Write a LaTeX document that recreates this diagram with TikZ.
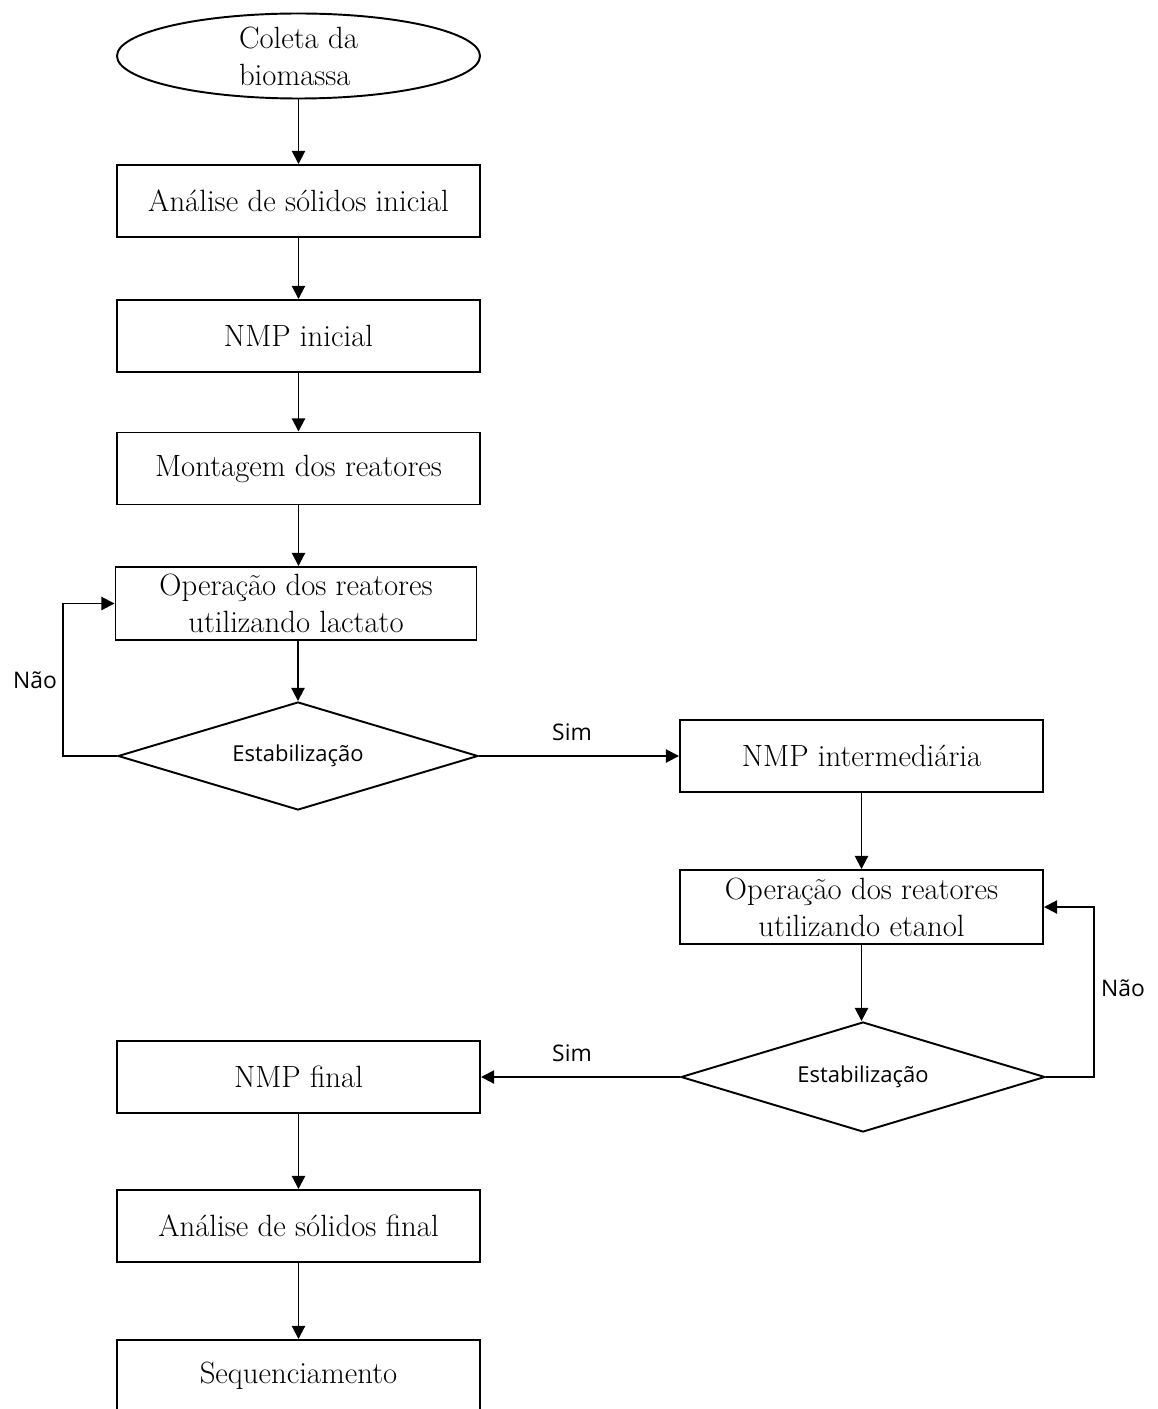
\documentclass[tikz,border=0pt]{standalone}
\usepackage{fontspec}
\newfontfamily\labelfont{Open Sans}
\usepackage{tikz}
\usetikzlibrary{positioning,arrows.meta}
\usetikzlibrary{shapes.geometric}
\tikzset{every picture/.style={line width=1.1pt}}
\tikzset{
  etapa/.style={draw, rectangle, minimum width=7.26cm, minimum height=1.44cm, inner sep=0pt,
    align=center, font=\fontsize{17.5}{21}\selectfont},
  inicio/.style={draw, ellipse, minimum width=7.26cm, minimum height=1.7cm, inner sep=0pt,
    align=left, font=\fontsize{17.5}{21}\selectfont},
  decisao/.style={draw, diamond, aspect=3.33, minimum width=7.2cm, minimum height=2.16cm, inner sep=0pt,
    font=\labelfont\fontsize{12.5}{14}\selectfont},
  rotulo/.style={font=\labelfont\fontsize{13}{15}\selectfont},
  seta/.style={-{Triangle[length=7.5pt,width=7.5pt]}}
}

\begin{document}
\begin{tikzpicture}
\clip (0,0) rectangle (23.16,-28.18);
% coluna da esquerda
\node[inicio] (coleta) at (5.97,-1.12) {Coleta da\\biomassa};
\node[etapa] (solini) at (5.97,-4.02) {Análise de sólidos inicial};
\node[etapa] (nmpini) at (5.97,-6.72) {NMP inicial};
\node[etapa] (montagem) at (5.97,-9.37) {Montagem dos reatores};
\node[etapa, minimum width=7.22cm, minimum height=1.46cm] (oplact) at (5.92,-12.07) {Operação dos reatores\\utilizando lactato};
\node[decisao] (estab1) at (5.96,-15.12) {Estabilização};
%
% coluna da direita
\node[etapa] (nmpint) at (17.23,-15.12) {NMP intermediária};
\node[etapa, minimum height=1.48cm] (opetan) at (17.23,-18.14) {Operação dos reatores\\utilizando etanol};
\node[decisao, minimum width=7.28cm, minimum height=2.2cm] (estab2) at (17.26,-21.54) {Estabilização};
%
% final
\node[etapa] (nmpfin) at (5.97,-21.54) {NMP final};
\node[etapa] (solfin) at (5.97,-24.52) {Análise de sólidos final};
\node[etapa] (sequen) at (5.97,-27.52) {Sequenciamento};
%
\draw[seta] (coleta) -- (solini);
\draw[seta] (solini) -- (nmpini);
\draw[seta] (nmpini) -- (montagem);
\draw[seta] (montagem) -- (montagem |- oplact.north);
\draw[seta] (oplact.south -| estab1) -- (estab1);
\draw[seta] (estab1.west) -- ++(-1.08,0) |- (oplact.west);
\draw[seta] (estab1.east) -- (nmpint.west);
\draw[seta] (nmpint) -- (opetan);
\draw[seta] (opetan) -- (opetan |- estab2.north);
\draw[seta] (estab2.east) -- ++(0.96,0) |- (opetan.east);
\draw[seta] (estab2.west) -- (nmpfin.east);
\draw[seta] (nmpfin) -- (solfin);
\draw[seta] (solfin) -- (sequen);
%
\node[rotulo] (nao1) at (0.7,-13.6) {Não};
\node[rotulo] (sim1) at (11.44,-14.64) {Sim};
\node[rotulo] (nao2) at (22.46,-19.76) {Não};
\node[rotulo] (sim2) at (11.44,-21.06) {Sim};
\end{tikzpicture}
\end{document}
